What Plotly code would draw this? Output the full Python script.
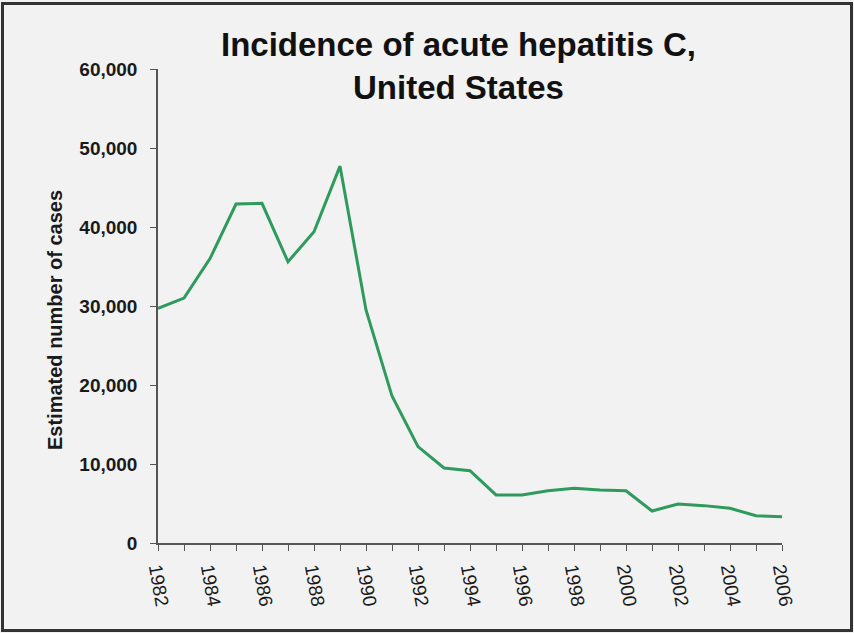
import plotly.graph_objects as go

years = list(range(1982, 2007))
cases = [29700, 31000, 36000, 42900, 43000, 35600, 39400, 47700, 29500, 18600,
         12200, 9500, 9150, 6080, 6080, 6620, 6920, 6700, 6620, 4050,
         4940, 4730, 4390, 3460, 3330]
tick_years = list(range(1982, 2007))
tick_text = [str(y) if (y - 1982) % 2 == 0 else "" for y in tick_years]
y_ticks = [0, 10000, 20000, 30000, 40000, 50000, 60000]

title_text = "Incidence of acute hepatitis C,<br>United States"
y_title = "Estimated number of cases"

BG = "#f2f2f2"
FONT = "Liberation Sans, Arial, sans-serif"

fig = go.Figure()
fig.add_trace(go.Scatter(
    x=years, y=cases, mode="lines",
    line=dict(color="#2e9a5c", width=3),
    showlegend=False, hoverinfo="x+y",
))

W, H = 854, 633
L, R, T, B = 158, 72, 69, 90
pw, ph = W - L - R, H - T - B

def px_x(p):
    return (p - L) / pw

def px_y(p):
    return (H - B - p) / ph

fig.update_layout(
    width=W, height=H,
    margin=dict(l=L, r=R, t=T, b=B),
    paper_bgcolor=BG, plot_bgcolor=BG,
    font=dict(family=FONT, color="#1a1a1a"),
    xaxis=dict(
        range=[1982, 2006], tickmode="array", tickvals=tick_years, ticktext=tick_text,
        tickangle=80, ticks="outside", ticklen=6, tickwidth=1, tickcolor="#555",
        showline=True, linecolor="#555", linewidth=1.5, showgrid=False, zeroline=False,
        tickfont=dict(size=19, family=FONT, color="#1a1a1a"),
    ),
    yaxis=dict(
        range=[0, 60000], tickmode="array", tickvals=y_ticks,
        ticktext=[f"{v:,}" for v in y_ticks],
        ticks="outside", ticklen=6, tickwidth=1, tickcolor="#555",
        showline=True, linecolor="#555", linewidth=1.5, showgrid=False, zeroline=False,
        tickfont=dict(size=19, family=FONT, color="#1a1a1a", weight="bold"),
        ticklabelstandoff=9,
    ),
    annotations=[
        dict(
            text=title_text, xref="paper", yref="paper",
            x=px_x(458), y=px_y(66), xanchor="center", yanchor="middle",
            showarrow=False, font=dict(size=33, weight="bold", color="#111"),
        ),
        dict(
            text=y_title, xref="paper", yref="paper", textangle=-90,
            x=px_x(55), y=px_y(320), xanchor="center", yanchor="middle",
            showarrow=False, font=dict(size=20, weight="bold", color="#1a1a1a"),
        ),
    ],
    shapes=[dict(
        type="rect", xref="paper", yref="paper",
        x0=px_x(2.5), x1=px_x(851.5), y0=px_y(630.5), y1=px_y(3.5),
        line=dict(color="#333", width=3), fillcolor="rgba(0,0,0,0)", layer="below",
    )],
)

fig.write_html(
    "out.html",
    config={"displayModeBar": False},
    post_script="document.body.style.margin='0';document.body.style.overflow='hidden';"
                "document.documentElement.style.overflow='hidden';",
)
